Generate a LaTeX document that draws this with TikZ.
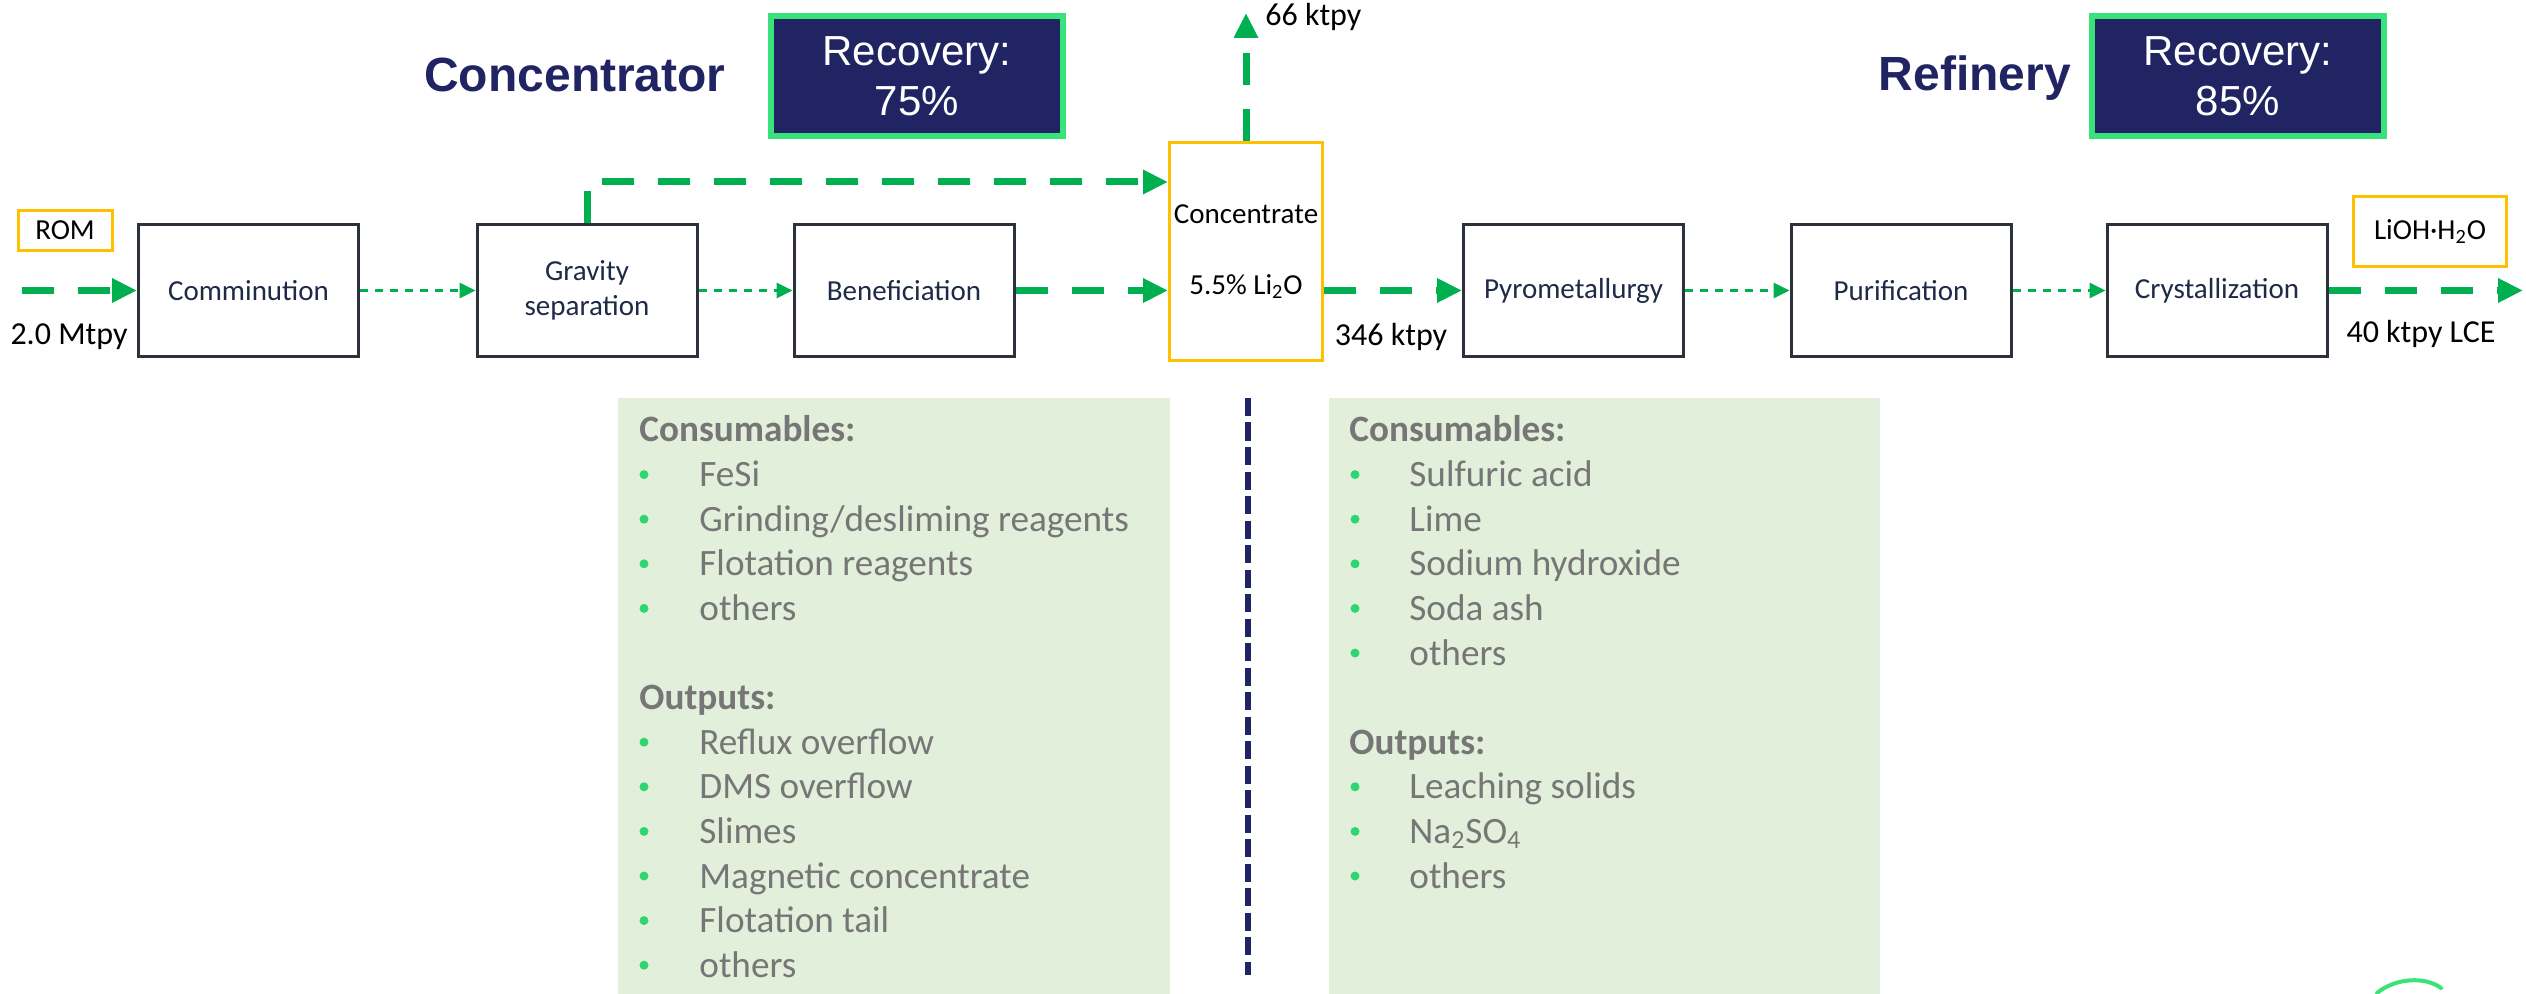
\documentclass[tikz,border=0pt]{standalone}
\usepackage{fontspec}
\setmainfont{Carlito}
\newfontfamily\arialf{Liberation Sans}
\usetikzlibrary{arrows.meta,calc}
\definecolor{navy}{RGB}{32,36,99}
\definecolor{recgreen}{RGB}{58,226,122}
\definecolor{flowgreen}{RGB}{0,176,80}
\definecolor{boxdark}{RGB}{44,50,60}
\definecolor{boxtext}{RGB}{30,42,70}
\definecolor{yel}{RGB}{255,192,0}
\definecolor{panelc}{RGB}{226,239,218}
\definecolor{graytext}{RGB}{118,118,118}
\definecolor{bulletgreen}{RGB}{46,214,115}
\newcommand{\pitem}[5]{%
  \fill[bulletgreen] ({#2},{442+44.6*(#4)-12}) circle[radius=2.25pt];
  \node[ptext] (#1) at ({#3},{442+44.6*(#4)}) {#5};}
\begin{document}
\begin{tikzpicture}[x=0.5pt,y=-0.5pt,
  proc/.style={draw=boxdark, line width=1.5pt, minimum width=110pt, minimum height=66pt, inner sep=0pt, align=center, text=boxtext, font=\fontsize{14.5}{17.5}\selectfont},
  ybox/.style={draw=yel, line width=1.5pt, inner sep=0pt, align=center, text=black, font=\fontsize{14.5}{17.5}\selectfont},
  recbox/.style={draw=recgreen, fill=navy, line width=3pt, minimum width=146pt, minimum height=60pt, inner sep=0pt, align=center, text=white, font=\arialf\fontsize{21}{25}\selectfont},
  title/.style={text=navy, font=\arialf\bfseries\fontsize{24}{28}\selectfont, anchor=base, inner sep=0pt},
  flowlbl/.style={text=black, font=\fontsize{16}{19}\selectfont, inner sep=0pt},
  thickflow/.style={draw=flowgreen, line width=3.5pt, dash pattern=on 16pt off 12pt, -{Triangle[length=12.5pt,width=11.5pt]}},
  thinflow/.style={draw=flowgreen, line width=1.5pt, dash pattern=on 4pt off 3.5pt, -{Triangle[length=8pt,width=7.5pt]}},
  phead/.style={text=graytext, font=\bfseries\fontsize{18.6}{22}\selectfont, anchor=base west, inner sep=0pt},
  ptext/.style={text=graytext, font=\fontsize{18.6}{22}\selectfont, anchor=base west, inner sep=0pt}]
\fill[white] (0,0) rectangle (2526,994);
\path[use as bounding box] (0,0) rectangle (2526,994);

% panels
\fill[panelc] (618,398) rectangle (1170,994);
\fill[panelc] (1329,398) rectangle (1880,994);
\draw[navy, line width=3pt, dash pattern=on 9pt off 3.25pt] (1248,398) -- (1248,975);

% titles and recovery
\node[title] (t1) at (575,92) {Concentrator};
\node[title] (t2) at (1975,91) {Refinery};
\node[recbox] (rec1) at (917,76) {Recovery:\\75\%};
\node[recbox] (rec2) at (2238,76) {Recovery:\\85\%};

% process boxes
\node[proc] (comm) at (248.5,290.5) {Comminution};
\node[proc] (grav) at (587,290.5) {Gravity\\separation};
\node[proc] (bene) at (904,290.5) {Beneficiation};
\node[proc] (pyro) at (1573.5,290.5) {Pyrometallurgy};
\node[proc] (puri) at (1901,290.5) {Purification};
\node[proc] (crys) at (2217,290.5) {Crystallization};
\node[ybox, minimum width=76.5pt, minimum height=109pt, font=\fontsize{14.5}{35.5}\selectfont] (conc) at (1246,251.5) {Concentrate\\5.5\% Li\textsubscript{2}O};
\node[ybox, minimum width=47pt, minimum height=20pt] (rom) at (65,230.5) {ROM};
\node[ybox, minimum width=76.5pt, minimum height=35pt] (lioh) at (2430,231.5) {LiOH·H\textsubscript{2}O};

% flow labels
\node[flowlbl, anchor=base] (l20) at (69,345) {2.0 Mtpy};
\node[flowlbl, anchor=base west] (l66) at (1265,26) {66 ktpy};
\node[flowlbl, anchor=base] (l346) at (1391,346) {346 ktpy};
\node[flowlbl, anchor=base] (l40) at (2421,343) {40 ktpy LCE};

% connectors
\coordinate (inL) at (22,290.5);
\coordinate (up) at (1246,13);
\coordinate (outR) at (2523,290.5);
\draw[thickflow] (inL) -- (comm.west);
\draw[thinflow] (comm) -- (grav);
\draw[thinflow] (grav) -- (bene);
\draw[thickflow] (bene.east) -- (bene.east -| conc.west);
\draw[thickflow] (grav.north) |- ([yshift=34.75pt]conc.west);
\draw[thickflow] (conc.north) -- (up);
\draw[thickflow] (conc.east |- pyro.west) -- (pyro.west);
\draw[thinflow] (pyro) -- (puri);
\draw[thinflow] (puri) -- (crys);
\draw[thickflow] (crys.east) -- (outR);

% left panel
\node[phead] (ah1) at (639,442) {Consumables:};
\pitem{a1}{644}{699}{1}{FeSi}
\pitem{a2}{644}{699}{2}{Grinding/desliming reagents}
\pitem{a3}{644}{699}{3}{Flotation reagents}
\pitem{a4}{644}{699}{4}{others}
\node[phead] (ah2) at (639,{442+44.6*6}) {Outputs:};
\pitem{a7}{644}{699}{7}{Reflux overflow}
\pitem{a8}{644}{699}{8}{DMS overflow}
\pitem{a9}{644}{699}{9}{Slimes}
\pitem{a10}{644}{699}{10}{Magnetic concentrate}
\pitem{a11}{644}{699}{11}{Flotation tail}
\pitem{a12}{644}{699}{12}{others}

% right panel
\node[phead] (bh1) at (1349,442) {Consumables:};
\pitem{b1}{1355}{1409}{1}{Sulfuric acid}
\pitem{b2}{1355}{1409}{2}{Lime}
\pitem{b3}{1355}{1409}{3}{Sodium hydroxide}
\pitem{b4}{1355}{1409}{4}{Soda ash}
\pitem{b5}{1355}{1409}{5}{others}
\node[phead] (bh2) at (1349,{442+44.6*7}) {Outputs:};
\pitem{b8}{1355}{1409}{8}{Leaching solids}
\pitem{b9}{1355}{1409}{9}{Na\textsubscript{2}SO\textsubscript{4}}
\pitem{b10}{1355}{1409}{10}{others}

% logo fragment
\draw[recgreen, line width=2pt, line cap=round] (2377,993) .. controls (2395,978) and (2425,976) .. (2441,988);
\end{tikzpicture}
\end{document}
